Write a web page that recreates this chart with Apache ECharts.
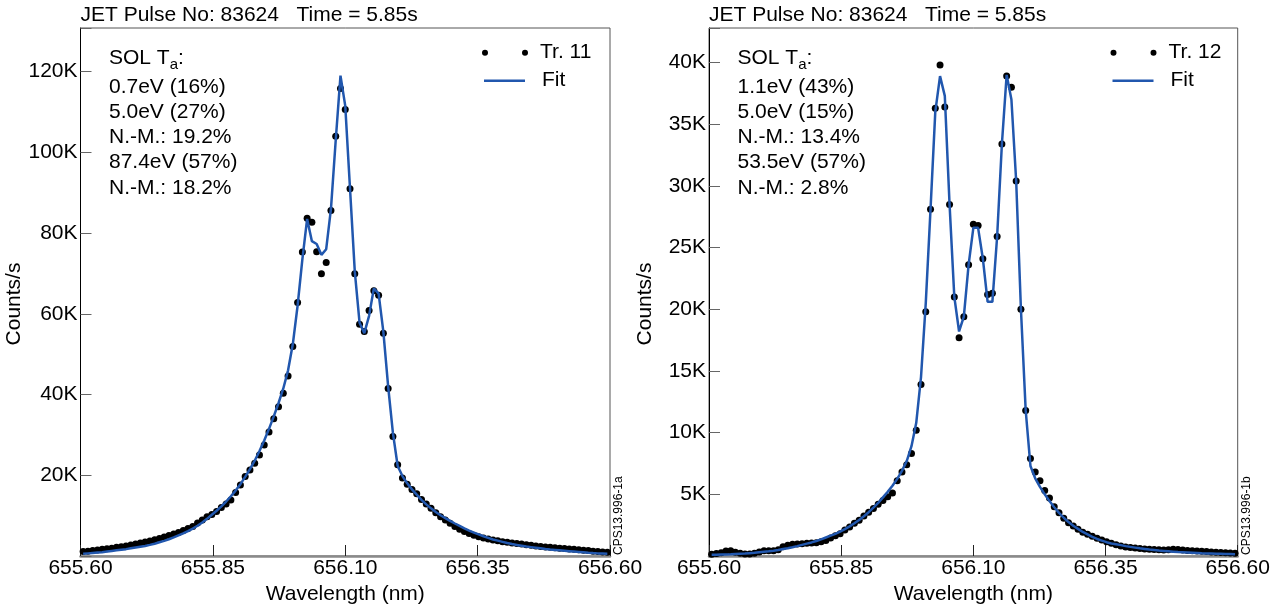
<!DOCTYPE html>
<html>
<head>
<meta charset="utf-8">
<script src="https://cdn.jsdelivr.net/npm/echarts@6/dist/echarts.min.js"></script>
<style>
  html, body { margin: 0; padding: 0; background: #fff; }
  #chart { width: 1285px; height: 613px; }
</style>
</head>
<body>
<div id="chart"></div>
<script>
// Wavelength sampling of the spectrometer tracks (nm)
const wavelength = [
  655.605, 655.614, 655.623, 655.632, 655.641, 655.650, 655.659, 655.668, 655.677, 655.686,
  655.695, 655.704, 655.713, 655.722, 655.731, 655.740, 655.749, 655.758, 655.767, 655.776,
  655.785, 655.794, 655.803, 655.812, 655.821, 655.830, 655.839, 655.848, 655.857, 655.866,
  655.875, 655.884, 655.893, 655.902, 655.911, 655.920, 655.929, 655.938, 655.947, 655.956,
  655.965, 655.974, 655.983, 655.992, 656.001, 656.010, 656.019, 656.028, 656.037, 656.046,
  656.055, 656.064, 656.073, 656.082, 656.091, 656.100, 656.109, 656.118, 656.127, 656.136,
  656.145, 656.154, 656.163, 656.172, 656.181, 656.190, 656.199, 656.208, 656.217, 656.226,
  656.235, 656.244, 656.253, 656.262, 656.271, 656.280, 656.289, 656.298, 656.307, 656.316,
  656.325, 656.334, 656.343, 656.352, 656.361, 656.370, 656.379, 656.388, 656.397, 656.406,
  656.415, 656.424, 656.433, 656.442, 656.451, 656.460, 656.469, 656.478, 656.487, 656.496,
  656.505, 656.514, 656.523, 656.532, 656.541, 656.550, 656.559, 656.568, 656.577, 656.586,
  656.595
];

// Track 11: measured counts/s and fitted profile
const counts11 = [
  1100, 1200, 1350, 1500, 1650, 1800, 1950, 2150, 2300, 2500,
  2700, 2950, 3200, 3450, 3700, 4000, 4350, 4700, 5050, 5450,
  5850, 6300, 6800, 7300, 8200, 8900, 9700, 10300, 11000, 12000,
  12900, 13900, 15700, 17600, 19700, 21300, 23000, 25000, 27500, 30700,
  34000, 37000, 40300, 44600, 51900, 62800, 75300, 83700, 82700, 75400,
  69900, 72700, 85600, 104000, 115800, 110600, 91000, 69900, 57400, 55600,
  60800, 65700, 64600, 55200, 41500, 29600, 22600, 19300, 17800, 16500,
  15400, 14000, 12900, 11800, 10700, 9700, 8900, 8100, 7300, 6600,
  6100, 5600, 5150, 4750, 4450, 4200, 3950, 3750, 3550, 3400,
  3250, 3100, 2950, 2800, 2650, 2500, 2350, 2250, 2150, 2050,
  1950, 1850, 1750, 1650, 1550, 1450, 1350, 1200, 1100, 1000,
  900
];
const fit11 = [
  550, 650, 750, 850, 950, 1100, 1250, 1400, 1550, 1700,
  1900, 2100, 2300, 2500, 2750, 3050, 3400, 3750, 4150, 4600,
  5100, 5600, 6150, 6800, 7500, 8300, 9200, 10200, 11200, 12300,
  13500, 14800, 16200, 17800, 19600, 21500, 23600, 26000, 28600, 31500,
  34600, 37900, 41500, 46000, 52500, 62000, 73500, 83500, 78000, 77300,
  74600, 76000, 86000, 103000, 119000, 111500, 91000, 70500, 57800, 55200,
  59500, 66300, 65000, 55500, 42000, 30500, 22300, 19800, 18000, 16500,
  15200, 13900, 12800, 11800, 10900, 10100, 9400, 8700, 8050, 7450,
  6850, 6300, 5800, 5350, 4900, 4500, 4100, 3800, 3500, 3200,
  2950, 2750, 2550, 2350, 2200, 2050, 1900, 1750, 1600, 1500,
  1400, 1300, 1200, 1100, 1000, 900, 800, 720, 650, 600,
  550
];

// Track 12: measured counts/s and fitted profile
const counts12 = [
  150, 200, 270, 400, 430, 300, 220, 160, 160, 220,
  330, 430, 430, 430, 500, 750, 870, 950, 970, 1000,
  1030, 1050, 1080, 1150, 1250, 1450, 1650, 1800, 2100, 2350,
  2650, 2900, 3250, 3550, 3850, 4200, 4500, 4800, 5100, 6100,
  6800, 7400, 8300, 10200, 13900, 19800, 28100, 36300, 39800, 36400,
  28500, 21000, 17700, 19400, 23600, 26900, 26800, 24100, 21200, 21300,
  25900, 33400, 38900, 38000, 30400, 20000, 11800, 7900, 6800, 6100,
  5300, 4700, 4000, 3500, 3060, 2700, 2430, 2170, 1920, 1760,
  1600, 1440, 1300, 1160, 1030, 920, 810, 730, 680, 640,
  600, 570, 550, 520, 500, 480, 500, 540, 520, 480,
  450, 430, 400, 380, 360, 330, 300, 280, 260, 240,
  220
];
const fit12 = [
  100, 110, 120, 130, 140, 160, 180, 200, 230, 260,
  300, 340, 380, 430, 490, 560, 630, 710, 800, 900,
  1000, 1100, 1220, 1350, 1500, 1650, 1800, 1980, 2180, 2400,
  2650, 2920, 3220, 3550, 3920, 4300, 4750, 5200, 5700, 6250,
  6900, 7700, 8900, 10800, 14500, 20500, 28100, 36000, 38900, 37300,
  28500, 21000, 18200, 19400, 23600, 26600, 26600, 24100, 20600, 20600,
  25900, 33400, 39000, 37000, 30400, 20000, 11800, 7300, 6300, 5600,
  5000, 4450, 3950, 3500, 3100, 2750, 2450, 2200, 1950, 1750,
  1550, 1380, 1250, 1120, 1020, 950, 880, 800, 740, 680,
  620, 570, 520, 480, 440, 410, 380, 350, 320, 300,
  280, 260, 240, 220, 210, 200, 190, 180, 170, 160,
  150
];

// Axis ranges and annotation texts
const xRange = { min: 655.60, max: 656.60, step: 0.25 };
const pulseTitle = 'JET Pulse No: 83624   Time = 5.85s';
const panels = [
  { track: 'Tr. 11', counts: counts11, fit: fit11, yMax: 130800, yStep: 20000,
    sol: ['0.7eV (16%)', '5.0eV (27%)', 'N.-M.: 19.2%', '87.4eV (57%)', 'N.-M.: 18.2%'],
    code: 'CPS13.996-1a' },
  { track: 'Tr. 12', counts: counts12, fit: fit12, yMax: 42800, yStep: 5000,
    sol: ['1.1eV (43%)', '5.0eV (15%)', 'N.-M.: 13.4%', '53.5eV (57%)', 'N.-M.: 2.8%'],
    code: 'CPS13.996-1b' }
];

const FONT = 'Liberation Sans, Arial, Helvetica, sans-serif';
const FIT_COLOR = '#2157ae';
const GRID_LEFT = [80.5, 709];
const GRID_W = [529.5, 528.7];
const GRID_TOP = 28, GRID_H = 528;
const TWO_DOTS = 'path://M0,3A3,3,0,1,1,6,3A3,3,0,1,1,0,3ZM40,3A3,3,0,1,1,46,3A3,3,0,1,1,40,3Z';
const legendText = { fontSize: 21, color: '#000', lineHeight: 22, fontFamily: FONT };

const option = {
  animation: false,
  backgroundColor: '#fff',
  textStyle: { fontFamily: FONT },
  title: [], grid: [], xAxis: [], yAxis: [], series: [], legend: [], graphic: []
};

panels.forEach((p, i) => {
  const gl = GRID_LEFT[i];
  const dx = gl - GRID_LEFT[0];

  option.title.push({
    text: pulseTitle, left: gl, top: 5, padding: 0,
    textStyle: { fontSize: 21, fontWeight: 'normal', color: '#000', fontFamily: FONT }
  });

  option.grid.push({
    left: gl, top: GRID_TOP, width: GRID_W[i], height: GRID_H,
    show: true, borderColor: '#555', borderWidth: 1, containLabel: false,
    outerBoundsMode: 'none'
  });

  option.xAxis.push({
    gridIndex: i, type: 'value',
    min: xRange.min, max: xRange.max, interval: xRange.step,
    name: 'Wavelength (nm)', nameLocation: 'middle', nameGap: 27,
    nameTextStyle: { fontSize: 21, color: '#000', fontFamily: FONT },
    axisLine: { show: true, onZero: false, lineStyle: { color: '#8a8a8a', width: 2.5 } },
    axisTick: { show: true, inside: true, length: 11, lineStyle: { color: '#222', width: 1 } },
    axisLabel: { fontSize: 21, color: '#000', margin: 2, fontFamily: FONT,
      showMinLabel: true, showMaxLabel: true,
      formatter: v => v.toFixed(2) },
    splitLine: { show: false }
  });

  const step = p.yStep;
  option.yAxis.push({
    gridIndex: i, type: 'value', min: 0, max: p.yMax, interval: step,
    name: 'Counts/s', nameLocation: 'middle', nameGap: 53,
    nameTextStyle: { fontSize: 21, color: '#000', fontFamily: FONT, padding: [0, 24, 0, 0] },
    axisLine: { show: true, onZero: false, lineStyle: { color: '#000', width: 1 } },
    axisTick: { show: true, inside: true, length: 11, lineStyle: { color: '#666', width: 1 } },
    axisLabel: { fontSize: 21, color: '#000', margin: 3, fontFamily: FONT,
      formatter: v => (v > 0 && Math.abs(v % step) < 1e-6) ? (v / 1000) + 'K' : '' },
    splitLine: { show: false }
  });

  option.series.push({
    type: 'scatter', name: p.track, xAxisIndex: i, yAxisIndex: i,
    data: wavelength.map((w, k) => [w, p.counts[k]]),
    symbol: 'circle', symbolSize: 7,
    itemStyle: { color: '#000', opacity: 1 }, z: 2
  });
  option.series.push({
    type: 'line', name: 'Fit', xAxisIndex: i, yAxisIndex: i,
    data: wavelength.map((w, k) => [w, p.fit[k]]),
    symbol: 'none', showSymbol: false, smooth: false,
    lineStyle: { color: FIT_COLOR, width: 2.5 },
    itemStyle: { color: FIT_COLOR }, z: 3
  });

  // Legend: data track (pair of dots) and fit (plain line)
  option.legend.push({
    left: gl + 401.5, top: 41.7, padding: 0,
    itemWidth: 46, itemHeight: 6, selectedMode: false,
    textStyle: Object.assign({ padding: [0, 0, 0, 7] }, legendText),
    data: [{ name: p.track, icon: TWO_DOTS }]
  });
  option.legend.push({
    left: gl + 403.5, top: 69.7, padding: 0,
    itemWidth: 41, itemHeight: 2.5, selectedMode: false,
    textStyle: Object.assign({ padding: [0, 0, 0, 12] }, legendText),
    itemStyle: { color: FIT_COLOR },
    data: [{ name: 'Fit', icon: 'rect' }]
  });

  // SOL temperature annotation block
  option.graphic.push({
    type: 'text', x: 109 + dx, y: 58,
    style: {
      text: '{n|SOL T}{s|a}{n|:}',
      verticalAlign: 'middle', lineHeight: 28,
      rich: {
        n: { fontSize: 21, fill: '#000', fontFamily: FONT },
        s: { fontSize: 15, fill: '#000', fontFamily: FONT, verticalAlign: 'bottom' }
      }
    }
  });
  const lineY = [87, 112, 137, 162, 188];
  p.sol.forEach((t, j) => {
    option.graphic.push({
      type: 'text', x: 109 + dx, y: lineY[j],
      style: { text: t, fontSize: 21, fill: '#000', fontFamily: FONT, verticalAlign: 'middle' }
    });
  });
  // Figure code along the right frame
  option.graphic.push({
    type: 'text', x: gl + GRID_W[i] + 8.5, y: 555, rotation: Math.PI / 2,
    style: { text: p.code, fontSize: 12, fill: '#000', fontFamily: FONT, align: 'left', verticalAlign: 'middle' }
  });
});

const chart = echarts.init(document.getElementById('chart'), null, { renderer: 'canvas' });
chart.setOption(option);
</script>
</body>
</html>
